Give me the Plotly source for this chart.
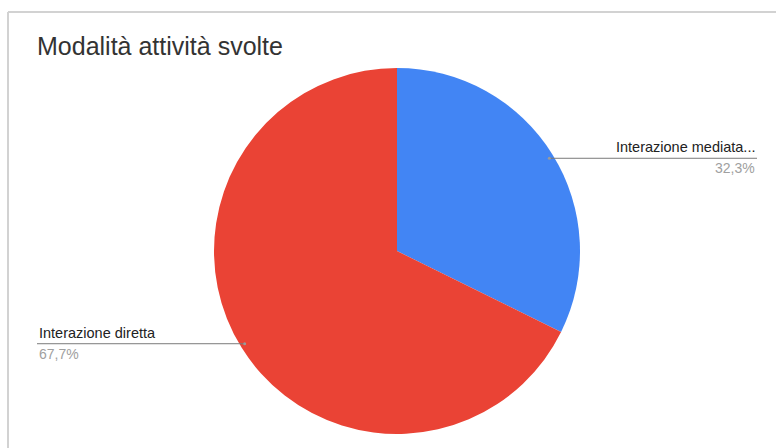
import math
import plotly.graph_objects as go

# Data
labels = ["Interazione mediata...", "Interazione diretta"]
values = [32.3, 67.7]
colors = ["#4285F4", "#EA4335"]
title_text = "Modalità attività svolte"

W, H = 776, 448
CX, CY, R = 397, 251, 183  # pie centre and radius in pixels
FONT = "Liberation Sans, Arial, sans-serif"


def px(x):
    return x / W


def py(y):
    return 1 - y / H


fig = go.Figure()
fig.add_trace(go.Pie(
    labels=labels,
    values=values,
    marker=dict(colors=colors, line=dict(width=0)),
    sort=False,
    direction="clockwise",
    rotation=0,
    textinfo="none",
    hoverinfo="label+percent",
    showlegend=False,
    domain=dict(x=[px(CX - R), px(CX + R)], y=[py(CY + R), py(CY - R)]),
))

shapes = []
annotations = []

# frame around the chart area
shapes.append(dict(type="line", xref="paper", yref="paper",
                   x0=px(8), x1=1.0, y0=py(12), y1=py(12),
                   line=dict(color="#d2d2d2", width=2)))
shapes.append(dict(type="line", xref="paper", yref="paper",
                   x0=px(8), x1=px(8), y0=py(12), y1=0,
                   line=dict(color="#d2d2d2", width=2)))

# leader lines and outside labels
total = sum(values)
cum = 0.0
for lab, val in zip(labels, values):
    mid = (cum + val / 2) / total * 2 * math.pi
    cum += val
    dx, dy = math.sin(mid), -math.cos(mid)
    ax, ay = CX + dx * R * 0.98, CY + dy * R * 0.96
    pct = f"{val / total * 100:.1f}%".replace(".", ",")
    if dx >= 0:
        x_end = 757
        anchor = "right"
    else:
        x_end = 37
        anchor = "left"
    shapes.append(dict(type="line", xref="paper", yref="paper",
                       x0=px(ax), x1=px(x_end), y0=py(ay), y1=py(ay),
                       line=dict(color="#7a7a7a", width=1)))
    shapes.append(dict(type="circle", xref="paper", yref="paper",
                       x0=px(ax - 1.5), x1=px(ax + 1.5),
                       y0=py(ay + 1.5), y1=py(ay - 1.5),
                       line=dict(width=0), fillcolor="#9a9a9a"))
    annotations.append(dict(x=px(x_end), y=py(ay - 1), xref="paper", yref="paper",
                            text=lab, showarrow=False, xanchor=anchor, yanchor="bottom",
                            font=dict(family=FONT, size=14.5, color="#222222")))
    annotations.append(dict(x=px(x_end), y=py(ay), xref="paper", yref="paper",
                            text=pct, showarrow=False, xanchor=anchor, yanchor="top",
                            font=dict(family=FONT, size=14, color="#a0a0a0")))

annotations.append(dict(x=px(35), y=py(46), xref="paper", yref="paper",
                        text=title_text, showarrow=False, xanchor="left", yanchor="middle",
                        font=dict(family=FONT, size=25, color="#333333")))

fig.update_layout(
    width=W, height=H,
    margin=dict(l=0, r=0, t=0, b=0),
    paper_bgcolor="white",
    plot_bgcolor="white",
    shapes=shapes,
    annotations=annotations,
)

fig.write_html("out.html")
